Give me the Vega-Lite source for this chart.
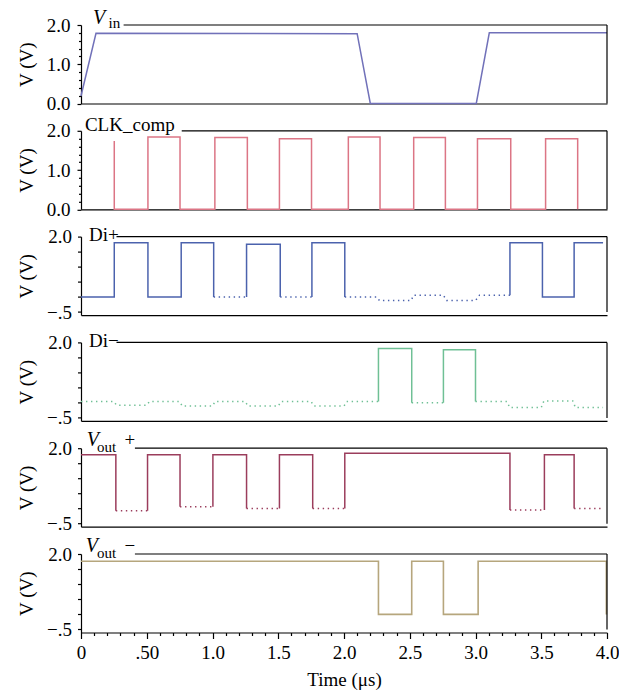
{
  "$schema": "https://vega.github.io/schema/vega-lite/v6.json",
  "padding": {"top": 8, "left": 17, "right": 5, "bottom": 5},
  "spacing": 26.8,
  "bounds": "flush",
  "config": {
    "view": {"stroke": null},
    "axis": {
      "labelFont": "Liberation Serif", "labelFontSize": 19, "labelColor": "black", "labelOverlap": false,
      "titleFont": "Liberation Serif", "titleFontSize": 19, "titleFontWeight": "normal", "titleColor": "black",
      "domainColor": "black", "domainWidth": 1.2, "tickColor": "black", "tickWidth": 1.2, "grid": false
    },
    "text": {"font": "Liberation Serif", "color": "black"}
  },
  "vconcat": [
    {
      "width": 526, "height": 78.5,
      "layer": [
        {
          "data": {"values": [
            {"t": 0, "v": 0.19, "o": 1}, {"t": 0.114, "v": 1.79, "o": 2}, {"t": 2.1, "v": 1.78, "o": 3},
            {"t": 2.2, "v": 0, "o": 4}, {"t": 3.006, "v": 0, "o": 5}, {"t": 3.105, "v": 1.8, "o": 6}, {"t": 4, "v": 1.8, "o": 7}
          ]},
          "mark": {"type": "line", "color": "#7171b9", "strokeWidth": 1.5},
          "encoding": {
            "x": {"field": "t", "type": "quantitative", "scale": {"domain": [0, 4]}, "axis": {"ticks": false, "labels": false, "title": null}},
            "y": {"field": "v", "type": "quantitative", "scale": {"domain": [0, 2]},
              "axis": {"title": "V (V)", "values": [0, 0.2, 0.4, 0.6, 0.8, 1, 1.2, 1.4, 1.6, 1.8, 2], "tickCount": 100,
                "labelExpr": "datum.value % 1 == 0 ? format(datum.value, '.1f') : ''",
                "tickSize": {"condition": {"test": "datum.value % 1 == 0", "value": 4}, "value": 2.5},
                "labelPadding": 7, "titlePadding": 10, "labelOverlap": false}},
            "order": {"field": "o"}
          }
        },
        {"data": {"values": [{}]}, "mark": {"type": "rule", "color": "black", "strokeWidth": 1.2},
          "encoding": {"x": {"datum": 4, "type": "quantitative"}, "y": {"datum": 0, "type": "quantitative"}, "y2": {"datum": 2}}},
        {"data": {"values": [{}]}, "mark": {"type": "rule", "color": "black", "strokeWidth": 1.2},
          "encoding": {"x": {"datum": 0.324, "type": "quantitative"}, "x2": {"datum": 4}, "y": {"datum": 2, "type": "quantitative"}}},
        {"data": {"values": [{"txt": "V"}]}, "mark": {"type": "text", "fontSize": 20, "fontStyle": "italic", "align": "left", "baseline": "alphabetic", "dy": -1},
          "encoding": {"x": {"datum": 0.091, "type": "quantitative"}, "y": {"datum": 2, "type": "quantitative"}, "text": {"field": "txt"}}},
        {"data": {"values": [{"txt": "in"}]}, "mark": {"type": "text", "fontSize": 15, "align": "left", "baseline": "alphabetic", "dy": 2.5},
          "encoding": {"x": {"datum": 0.21, "type": "quantitative"}, "y": {"datum": 2, "type": "quantitative"}, "text": {"field": "txt"}}}
      ]
    },
    {
      "width": 526, "height": 78.5,
      "layer": [
        {
          "data": {"values": [
            {"t": 0.253, "v": 1.74, "o": 1}, {"t": 0.253, "v": 0, "o": 2}, {"t": 0.509, "v": 0, "o": 3}, {"t": 0.509, "v": 1.84, "o": 4},
            {"t": 0.753, "v": 1.84, "o": 5}, {"t": 0.753, "v": 0, "o": 6}, {"t": 1.018, "v": 0, "o": 7}, {"t": 1.018, "v": 1.83, "o": 8},
            {"t": 1.265, "v": 1.83, "o": 9}, {"t": 1.265, "v": 0, "o": 10}, {"t": 1.509, "v": 0, "o": 11}, {"t": 1.509, "v": 1.8, "o": 12},
            {"t": 1.753, "v": 1.8, "o": 13}, {"t": 1.753, "v": 0, "o": 14}, {"t": 2.033, "v": 0, "o": 15}, {"t": 2.033, "v": 1.84, "o": 16},
            {"t": 2.274, "v": 1.84, "o": 17}, {"t": 2.274, "v": 0, "o": 18}, {"t": 2.53, "v": 0, "o": 19}, {"t": 2.53, "v": 1.83, "o": 20},
            {"t": 2.771, "v": 1.83, "o": 21}, {"t": 2.771, "v": 0, "o": 22}, {"t": 3.015, "v": 0, "o": 23}, {"t": 3.015, "v": 1.8, "o": 24},
            {"t": 3.268, "v": 1.8, "o": 25}, {"t": 3.268, "v": 0, "o": 26}, {"t": 3.533, "v": 0, "o": 27}, {"t": 3.533, "v": 1.8, "o": 28},
            {"t": 3.777, "v": 1.8, "o": 29}, {"t": 3.777, "v": 0, "o": 30}
          ]},
          "mark": {"type": "line", "color": "#dc7585", "strokeWidth": 1.5},
          "encoding": {
            "x": {"field": "t", "type": "quantitative", "scale": {"domain": [0, 4]}, "axis": {"ticks": false, "labels": false, "title": null}},
            "y": {"field": "v", "type": "quantitative", "scale": {"domain": [0, 2]},
              "axis": {"title": "V (V)", "values": [0, 0.2, 0.4, 0.6, 0.8, 1, 1.2, 1.4, 1.6, 1.8, 2], "tickCount": 100,
                "labelExpr": "datum.value % 1 == 0 ? format(datum.value, '.1f') : ''",
                "tickSize": {"condition": {"test": "datum.value % 1 == 0", "value": 4}, "value": 2.5},
                "labelPadding": 7, "titlePadding": 10, "labelOverlap": false}},
            "order": {"field": "o"}
          }
        },
        {"data": {"values": [{}]}, "mark": {"type": "rule", "color": "black", "strokeWidth": 1.2},
          "encoding": {"x": {"datum": 4, "type": "quantitative"}, "y": {"datum": 0, "type": "quantitative"}, "y2": {"datum": 2}}},
        {"data": {"values": [{}]}, "mark": {"type": "rule", "color": "black", "strokeWidth": 1.2},
          "encoding": {"x": {"datum": 0.766, "type": "quantitative"}, "x2": {"datum": 4}, "y": {"datum": 2, "type": "quantitative"}}},
        {"data": {"values": [{"txt": "CLK_comp"}]}, "mark": {"type": "text", "fontSize": 19, "align": "left", "baseline": "alphabetic", "dy": 0},
          "encoding": {"x": {"datum": 0.03, "type": "quantitative"}, "y": {"datum": 2, "type": "quantitative"}, "text": {"field": "txt"}}}
      ]
    },
    {
      "width": 526, "height": 78.5,
      "layer": [
        {
          "data": {"values": [
            {"k": 1, "d": "s", "t": 0, "v": 0, "o": 1}, {"k": 1, "d": "s", "t": 0.253, "v": 0, "o": 2}, {"k": 1, "d": "s", "t": 0.253, "v": 1.8, "o": 3},
            {"k": 1, "d": "s", "t": 0.509, "v": 1.8, "o": 4}, {"k": 1, "d": "s", "t": 0.509, "v": 0, "o": 5}, {"k": 1, "d": "s", "t": 0.762, "v": 0, "o": 6},
            {"k": 1, "d": "s", "t": 0.762, "v": 1.8, "o": 7}, {"k": 1, "d": "s", "t": 1.009, "v": 1.8, "o": 8}, {"k": 1, "d": "s", "t": 1.009, "v": 0, "o": 9},
            {"k": 2, "d": "d", "t": 1.009, "v": 0, "o": 10}, {"k": 2, "d": "d", "t": 1.259, "v": 0, "o": 11},
            {"k": 3, "d": "s", "t": 1.259, "v": 0, "o": 12}, {"k": 3, "d": "s", "t": 1.259, "v": 1.75, "o": 13}, {"k": 3, "d": "s", "t": 1.515, "v": 1.75, "o": 14}, {"k": 3, "d": "s", "t": 1.515, "v": 0, "o": 15},
            {"k": 4, "d": "d", "t": 1.515, "v": 0, "o": 16}, {"k": 4, "d": "d", "t": 1.756, "v": 0, "o": 17},
            {"k": 5, "d": "s", "t": 1.756, "v": 0, "o": 18}, {"k": 5, "d": "s", "t": 1.756, "v": 1.8, "o": 19}, {"k": 5, "d": "s", "t": 2.006, "v": 1.8, "o": 20}, {"k": 5, "d": "s", "t": 2.006, "v": 0, "o": 21},
            {"k": 6, "d": "d", "t": 2.006, "v": 0, "o": 22}, {"k": 6, "d": "d", "t": 2.25, "v": 0, "o": 23}, {"k": 6, "d": "d", "t": 2.27, "v": -0.12, "o": 24},
            {"k": 6, "d": "d", "t": 2.51, "v": -0.12, "o": 25}, {"k": 6, "d": "d", "t": 2.53, "v": 0.06, "o": 26}, {"k": 6, "d": "d", "t": 2.756, "v": 0.06, "o": 27},
            {"k": 6, "d": "d", "t": 2.78, "v": -0.12, "o": 28}, {"k": 6, "d": "d", "t": 3.0, "v": -0.12, "o": 29}, {"k": 6, "d": "d", "t": 3.03, "v": 0.06, "o": 30},
            {"k": 6, "d": "d", "t": 3.262, "v": 0.06, "o": 31},
            {"k": 7, "d": "s", "t": 3.262, "v": 0.06, "o": 32}, {"k": 7, "d": "s", "t": 3.262, "v": 1.8, "o": 33}, {"k": 7, "d": "s", "t": 3.509, "v": 1.8, "o": 34},
            {"k": 7, "d": "s", "t": 3.509, "v": 0, "o": 35}, {"k": 7, "d": "s", "t": 3.75, "v": 0, "o": 36}, {"k": 7, "d": "s", "t": 3.75, "v": 1.8, "o": 37},
            {"k": 7, "d": "s", "t": 3.97, "v": 1.8, "o": 38}
          ]},
          "mark": {"type": "line", "color": "#4b62ad", "strokeWidth": 1.5},
          "encoding": {
            "x": {"field": "t", "type": "quantitative", "scale": {"domain": [0, 4]}, "axis": {"ticks": false, "labels": false, "title": null}},
            "y": {"field": "v", "type": "quantitative", "scale": {"domain": [-0.5, 2]},
              "axis": {"title": "V (V)", "values": [-0.5, 0, 0.5, 1, 1.5, 2], "tickCount": 100,
                "labelExpr": "datum.value == 2 ? '2.0' : (datum.value == -0.5 ? '−.5' : '')",
                "tickSize": 3.5, "labelPadding": 6, "titlePadding": 10, "labelOverlap": false}},
            "order": {"field": "o"},
            "detail": {"field": "k"},
            "strokeDash": {"field": "d", "type": "nominal", "scale": {"domain": ["s", "d"], "range": [[1, 0], [1.4, 3.6]]}, "legend": null}
          }
        },
        {"data": {"values": [{}]}, "mark": {"type": "rule", "color": "black", "strokeWidth": 1.2},
          "encoding": {"x": {"datum": 4, "type": "quantitative"}, "y": {"datum": -0.5, "type": "quantitative"}, "y2": {"datum": 2}}},
        {"data": {"values": [{}]}, "mark": {"type": "rule", "color": "black", "strokeWidth": 1.2},
          "encoding": {"x": {"datum": 0.27, "type": "quantitative"}, "x2": {"datum": 4}, "y": {"datum": 2, "type": "quantitative"}}},
        {"data": {"values": [{"txt": "Di+"}]}, "mark": {"type": "text", "fontSize": 19, "align": "left", "baseline": "alphabetic", "dy": 4.5},
          "encoding": {"x": {"datum": 0.061, "type": "quantitative"}, "y": {"datum": 2, "type": "quantitative"}, "text": {"field": "txt"}}}
      ]
    },
    {
      "width": 526, "height": 78.5,
      "layer": [
        {
          "data": {"values": [
            {"k": 1, "d": "d", "t": 0, "v": 0.04, "o": 1}, {"k": 1, "d": "d", "t": 0.25, "v": 0.04, "o": 2}, {"k": 1, "d": "d", "t": 0.27, "v": -0.08, "o": 3},
            {"k": 1, "d": "d", "t": 0.5, "v": -0.08, "o": 4}, {"k": 1, "d": "d", "t": 0.52, "v": 0.04, "o": 5}, {"k": 1, "d": "d", "t": 0.75, "v": 0.04, "o": 6},
            {"k": 1, "d": "d", "t": 0.77, "v": -0.11, "o": 7}, {"k": 1, "d": "d", "t": 1.0, "v": -0.11, "o": 8}, {"k": 1, "d": "d", "t": 1.02, "v": 0.04, "o": 9},
            {"k": 1, "d": "d", "t": 1.25, "v": 0.04, "o": 10}, {"k": 1, "d": "d", "t": 1.27, "v": -0.11, "o": 11}, {"k": 1, "d": "d", "t": 1.5, "v": -0.11, "o": 12},
            {"k": 1, "d": "d", "t": 1.52, "v": 0.04, "o": 13}, {"k": 1, "d": "d", "t": 1.75, "v": 0.04, "o": 14}, {"k": 1, "d": "d", "t": 1.77, "v": -0.11, "o": 15},
            {"k": 1, "d": "d", "t": 2.0, "v": -0.11, "o": 16}, {"k": 1, "d": "d", "t": 2.02, "v": 0.04, "o": 17}, {"k": 1, "d": "d", "t": 2.262, "v": 0.04, "o": 18},
            {"k": 2, "d": "s", "t": 2.262, "v": 0.04, "o": 19}, {"k": 2, "d": "s", "t": 2.262, "v": 1.8, "o": 20}, {"k": 2, "d": "s", "t": 2.515, "v": 1.8, "o": 21}, {"k": 2, "d": "s", "t": 2.515, "v": 0, "o": 22},
            {"k": 3, "d": "d", "t": 2.515, "v": 0, "o": 23}, {"k": 3, "d": "d", "t": 2.756, "v": 0, "o": 24},
            {"k": 4, "d": "s", "t": 2.756, "v": 0, "o": 25}, {"k": 4, "d": "s", "t": 2.756, "v": 1.76, "o": 26}, {"k": 4, "d": "s", "t": 3.0, "v": 1.76, "o": 27}, {"k": 4, "d": "s", "t": 3.0, "v": 0.04, "o": 28},
            {"k": 5, "d": "d", "t": 3.0, "v": 0.04, "o": 29}, {"k": 5, "d": "d", "t": 3.24, "v": 0.04, "o": 30}, {"k": 5, "d": "d", "t": 3.26, "v": -0.16, "o": 31},
            {"k": 5, "d": "d", "t": 3.5, "v": -0.16, "o": 32}, {"k": 5, "d": "d", "t": 3.52, "v": 0.06, "o": 33}, {"k": 5, "d": "d", "t": 3.74, "v": 0.06, "o": 34},
            {"k": 5, "d": "d", "t": 3.76, "v": -0.16, "o": 35}, {"k": 5, "d": "d", "t": 3.97, "v": -0.16, "o": 36}
          ]},
          "mark": {"type": "line", "color": "#6fc095", "strokeWidth": 1.5},
          "encoding": {
            "x": {"field": "t", "type": "quantitative", "scale": {"domain": [0, 4]}, "axis": {"ticks": false, "labels": false, "title": null}},
            "y": {"field": "v", "type": "quantitative", "scale": {"domain": [-0.5, 2]},
              "axis": {"title": "V (V)", "values": [-0.5, 0, 0.5, 1, 1.5, 2], "tickCount": 100,
                "labelExpr": "datum.value == 2 ? '2.0' : (datum.value == -0.5 ? '−.5' : '')",
                "tickSize": 3.5, "labelPadding": 6, "titlePadding": 10, "labelOverlap": false}},
            "order": {"field": "o"},
            "detail": {"field": "k"},
            "strokeDash": {"field": "d", "type": "nominal", "scale": {"domain": ["s", "d"], "range": [[1, 0], [1.4, 3.6]]}, "legend": null}
          }
        },
        {"data": {"values": [{}]}, "mark": {"type": "rule", "color": "black", "strokeWidth": 1.2},
          "encoding": {"x": {"datum": 4, "type": "quantitative"}, "y": {"datum": -0.5, "type": "quantitative"}, "y2": {"datum": 2}}},
        {"data": {"values": [{}]}, "mark": {"type": "rule", "color": "black", "strokeWidth": 1.2},
          "encoding": {"x": {"datum": 0.27, "type": "quantitative"}, "x2": {"datum": 4}, "y": {"datum": 2, "type": "quantitative"}}},
        {"data": {"values": [{"txt": "Di−"}]}, "mark": {"type": "text", "fontSize": 19, "align": "left", "baseline": "alphabetic", "dy": 4.5},
          "encoding": {"x": {"datum": 0.061, "type": "quantitative"}, "y": {"datum": 2, "type": "quantitative"}, "text": {"field": "txt"}}}
      ]
    },
    {
      "width": 526, "height": 78.5,
      "layer": [
        {
          "data": {"values": [
            {"k": 1, "d": "s", "t": 0, "v": 1.78, "o": 1}, {"k": 1, "d": "s", "t": 0.265, "v": 1.78, "o": 2}, {"k": 1, "d": "s", "t": 0.265, "v": -0.07, "o": 3},
            {"k": 2, "d": "d", "t": 0.265, "v": -0.07, "o": 4}, {"k": 2, "d": "d", "t": 0.506, "v": -0.07, "o": 5},
            {"k": 3, "d": "s", "t": 0.506, "v": -0.07, "o": 6}, {"k": 3, "d": "s", "t": 0.506, "v": 1.78, "o": 7}, {"k": 3, "d": "s", "t": 0.753, "v": 1.78, "o": 8}, {"k": 3, "d": "s", "t": 0.753, "v": 0.06, "o": 9},
            {"k": 4, "d": "d", "t": 0.753, "v": 0.06, "o": 10}, {"k": 4, "d": "d", "t": 1.003, "v": 0.06, "o": 11},
            {"k": 5, "d": "s", "t": 1.003, "v": 0.06, "o": 12}, {"k": 5, "d": "s", "t": 1.003, "v": 1.78, "o": 13}, {"k": 5, "d": "s", "t": 1.259, "v": 1.78, "o": 14}, {"k": 5, "d": "s", "t": 1.259, "v": 0, "o": 15},
            {"k": 6, "d": "d", "t": 1.259, "v": 0, "o": 16}, {"k": 6, "d": "d", "t": 1.509, "v": 0, "o": 17},
            {"k": 7, "d": "s", "t": 1.509, "v": 0, "o": 18}, {"k": 7, "d": "s", "t": 1.509, "v": 1.78, "o": 19}, {"k": 7, "d": "s", "t": 1.762, "v": 1.78, "o": 20}, {"k": 7, "d": "s", "t": 1.762, "v": 0, "o": 21},
            {"k": 8, "d": "d", "t": 1.762, "v": 0, "o": 22}, {"k": 8, "d": "d", "t": 2.006, "v": 0, "o": 23},
            {"k": 9, "d": "s", "t": 2.006, "v": 0, "o": 24}, {"k": 9, "d": "s", "t": 2.006, "v": 1.83, "o": 25}, {"k": 9, "d": "s", "t": 3.262, "v": 1.83, "o": 26}, {"k": 9, "d": "s", "t": 3.262, "v": -0.05, "o": 27},
            {"k": 10, "d": "d", "t": 3.262, "v": -0.05, "o": 28}, {"k": 10, "d": "d", "t": 3.524, "v": -0.05, "o": 29},
            {"k": 11, "d": "s", "t": 3.524, "v": -0.05, "o": 30}, {"k": 11, "d": "s", "t": 3.524, "v": 1.78, "o": 31}, {"k": 11, "d": "s", "t": 3.75, "v": 1.78, "o": 32}, {"k": 11, "d": "s", "t": 3.75, "v": 0, "o": 33},
            {"k": 12, "d": "d", "t": 3.75, "v": 0, "o": 34}, {"k": 12, "d": "d", "t": 3.97, "v": 0, "o": 35}
          ]},
          "mark": {"type": "line", "color": "#9b3d5c", "strokeWidth": 1.5},
          "encoding": {
            "x": {"field": "t", "type": "quantitative", "scale": {"domain": [0, 4]}, "axis": {"ticks": false, "labels": false, "title": null}},
            "y": {"field": "v", "type": "quantitative", "scale": {"domain": [-0.5, 2]},
              "axis": {"title": "V (V)", "values": [-0.5, 0, 0.5, 1, 1.5, 2], "tickCount": 100,
                "labelExpr": "datum.value == 2 ? '2.0' : (datum.value == -0.5 ? '−.5' : '')",
                "tickSize": 3.5, "labelPadding": 6, "titlePadding": 10, "labelOverlap": false}},
            "order": {"field": "o"},
            "detail": {"field": "k"},
            "strokeDash": {"field": "d", "type": "nominal", "scale": {"domain": ["s", "d"], "range": [[1, 0], [1.4, 3.6]]}, "legend": null}
          }
        },
        {"data": {"values": [{}]}, "mark": {"type": "rule", "color": "black", "strokeWidth": 1.2},
          "encoding": {"x": {"datum": 4, "type": "quantitative"}, "y": {"datum": -0.5, "type": "quantitative"}, "y2": {"datum": 2}}},
        {"data": {"values": [{}]}, "mark": {"type": "rule", "color": "black", "strokeWidth": 1.2},
          "encoding": {"x": {"datum": 0.41, "type": "quantitative"}, "x2": {"datum": 4}, "y": {"datum": 2, "type": "quantitative"}}},
        {"data": {"values": [{"txt": "V"}]}, "mark": {"type": "text", "fontSize": 20, "fontStyle": "italic", "align": "left", "baseline": "alphabetic", "dy": -2},
          "encoding": {"x": {"datum": 0.043, "type": "quantitative"}, "y": {"datum": 2, "type": "quantitative"}, "text": {"field": "txt"}}},
        {"data": {"values": [{"txt": "out"}]}, "mark": {"type": "text", "fontSize": 15, "align": "left", "baseline": "alphabetic", "dy": 3.5},
          "encoding": {"x": {"datum": 0.122, "type": "quantitative"}, "y": {"datum": 2, "type": "quantitative"}, "text": {"field": "txt"}}},
        {"data": {"values": [{"txt": "+"}]}, "mark": {"type": "text", "fontSize": 19, "align": "left", "baseline": "alphabetic", "dy": -2},
          "encoding": {"x": {"datum": 0.33, "type": "quantitative"}, "y": {"datum": 2, "type": "quantitative"}, "text": {"field": "txt"}}}
      ]
    },
    {
      "width": 526, "height": 78.5,
      "layer": [
        {
          "data": {"values": [
            {"t": 0, "v": 1.76, "o": 1}, {"t": 2.262, "v": 1.76, "o": 2}, {"t": 2.262, "v": 0, "o": 3}, {"t": 2.515, "v": 0, "o": 4},
            {"t": 2.515, "v": 1.76, "o": 5}, {"t": 2.756, "v": 1.76, "o": 6}, {"t": 2.756, "v": 0, "o": 7}, {"t": 3.02, "v": 0, "o": 8},
            {"t": 3.02, "v": 1.76, "o": 9}, {"t": 3.995, "v": 1.76, "o": 10}, {"t": 3.995, "v": 0, "o": 11}
          ]},
          "mark": {"type": "line", "color": "#b6a67d", "strokeWidth": 1.6},
          "encoding": {
            "x": {"field": "t", "type": "quantitative", "scale": {"domain": [0, 4]},
              "axis": {"title": "Time (μs)", "values": [0, 0.1, 0.2, 0.3, 0.4, 0.5, 0.6, 0.7, 0.8, 0.9, 1, 1.1, 1.2, 1.3, 1.4, 1.5, 1.6, 1.7, 1.8, 1.9, 2, 2.1, 2.2, 2.3, 2.4, 2.5, 2.6, 2.7, 2.8, 2.9, 3, 3.1, 3.2, 3.3, 3.4, 3.5, 3.6, 3.7, 3.8, 3.9, 4], "tickCount": 100,
                "labelExpr": "datum.value == 0 ? '0' : (datum.value == 0.5 ? '.50' : (abs(datum.value * 2 - round(datum.value * 2)) < 0.001 ? format(datum.value, '.1f') : ''))",
                "tickSize": {"condition": {"test": "abs(datum.value * 2 - round(datum.value * 2)) < 0.001", "value": 6}, "value": 3},
                "labelPadding": 5, "titlePadding": 8, "labelOverlap": false, "labelFlush": false}},
            "y": {"field": "v", "type": "quantitative", "scale": {"domain": [-0.5, 2]},
              "axis": {"title": "V (V)", "values": [-0.5, 0, 0.5, 1, 1.5, 2], "tickCount": 100,
                "labelExpr": "datum.value == 2 ? '2.0' : (datum.value == -0.5 ? '−.5' : '')",
                "tickSize": 3.5, "labelPadding": 6, "titlePadding": 10, "labelOverlap": false}},
            "order": {"field": "o"}
          }
        },
        {"data": {"values": [{}]}, "mark": {"type": "rule", "color": "black", "strokeWidth": 1.2},
          "encoding": {"x": {"datum": 4, "type": "quantitative"}, "y": {"datum": -0.5, "type": "quantitative"}, "y2": {"datum": 2}}},
        {"data": {"values": [{}]}, "mark": {"type": "rule", "color": "black", "strokeWidth": 1.2},
          "encoding": {"x": {"datum": 0.41, "type": "quantitative"}, "x2": {"datum": 4}, "y": {"datum": 2, "type": "quantitative"}}},
        {"data": {"values": [{"txt": "V"}]}, "mark": {"type": "text", "fontSize": 20, "fontStyle": "italic", "align": "left", "baseline": "alphabetic", "dy": -2},
          "encoding": {"x": {"datum": 0.036, "type": "quantitative"}, "y": {"datum": 2, "type": "quantitative"}, "text": {"field": "txt"}}},
        {"data": {"values": [{"txt": "out"}]}, "mark": {"type": "text", "fontSize": 15, "align": "left", "baseline": "alphabetic", "dy": 3.5},
          "encoding": {"x": {"datum": 0.122, "type": "quantitative"}, "y": {"datum": 2, "type": "quantitative"}, "text": {"field": "txt"}}},
        {"data": {"values": [{"txt": "−"}]}, "mark": {"type": "text", "fontSize": 19, "align": "left", "baseline": "alphabetic", "dy": -2},
          "encoding": {"x": {"datum": 0.33, "type": "quantitative"}, "y": {"datum": 2, "type": "quantitative"}, "text": {"field": "txt"}}}
      ]
    }
  ]
}
